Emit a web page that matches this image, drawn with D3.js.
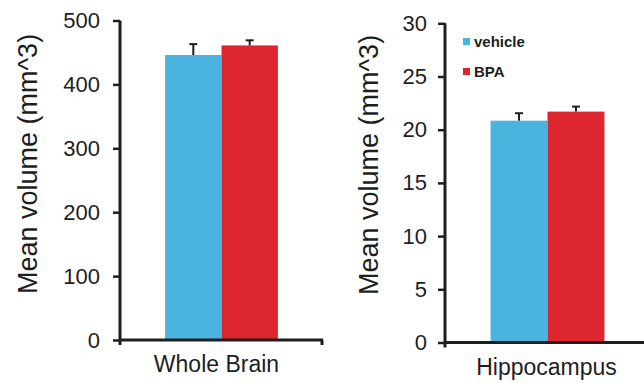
<!DOCTYPE html>
<html><head><meta charset="utf-8">
<script src="https://cdn.jsdelivr.net/npm/d3@7"></script>
<style>
html,body{margin:0;padding:0;background:#fff;}
svg{display:block;font-family:"Liberation Sans",Arial,sans-serif;}
</style></head>
<body><svg id="c" width="644" height="383"></svg>
<script>
const series = ["vehicle", "BPA"];
const colors = ["#4ab3e0", "#de262e"];
const wholeBrainMeans = [446, 461];
const wholeBrainErr = [17, 8];
const hippoMeans = [20.85, 21.7];
const hippoErr = [0.7, 0.47];
const wholeTicks = [0, 100, 200, 300, 400, 500];
const hippoTicks = [0, 5, 10, 15, 20, 25, 30];
const yLabel = "Mean volume (mm^3)";

const svg = d3.select("#c");
const ink = "#1e1e1e";

function panel(o) {
  const g = svg.append("g");
  const y = d3.scaleLinear().domain([0, o.max]).range([o.y0, o.y1]);
  const x = d3.scaleBand().domain([o.cat]).range([o.x0, o.x1]).paddingOuter(0.4).paddingInner(0);
  const xs = d3.scaleBand().domain(series).range([x(o.cat), x(o.cat) + x.bandwidth()]);
  // bars
  g.selectAll("rect.bar").data(series).join("rect")
    .attr("x", d => xs(d)).attr("width", xs.bandwidth())
    .attr("y", (d, i) => y(o.means[i])).attr("height", (d, i) => y(0) - y(o.means[i]))
    .attr("fill", (d, i) => colors[i]);
  // error bars
  const eb = g.selectAll("g.err").data(series).join("g");
  eb.append("line")
    .attr("x1", d => xs(d) + xs.bandwidth() / 2).attr("x2", d => xs(d) + xs.bandwidth() / 2)
    .attr("y1", (d, i) => y(o.means[i])).attr("y2", (d, i) => y(o.means[i] + o.err[i]))
    .attr("stroke", ink).attr("stroke-width", 2);
  eb.append("line")
    .attr("x1", d => xs(d) + xs.bandwidth() / 2 - 4).attr("x2", d => xs(d) + xs.bandwidth() / 2 + 4)
    .attr("y1", (d, i) => y(o.means[i] + o.err[i])).attr("y2", (d, i) => y(o.means[i] + o.err[i]))
    .attr("stroke", ink).attr("stroke-width", 2);
  // y axis
  const ya = g.append("g").attr("transform", `translate(${o.x0},0)`)
    .call(d3.axisLeft(y).tickValues(o.ticks).tickSize(7).tickPadding(o.pad).tickSizeOuter(0));
  ya.select(".domain").remove();
  ya.selectAll(".tick line").attr("stroke", ink).attr("stroke-width", 2.5);
  ya.selectAll(".tick text").attr("fill", ink).style("font-size", "22px")
    .style("font-family", '"Liberation Sans",Arial,sans-serif');
  g.append("line").attr("x1", o.x0).attr("x2", o.x0).attr("y1", y(o.max)).attr("y2", y(0) + 5)
    .attr("stroke", ink).attr("stroke-width", 3);
  // x axis
  g.append("line").attr("x1", o.x0).attr("x2", o.x1).attr("y1", y(0)).attr("y2", y(0))
    .attr("stroke", ink).attr("stroke-width", 3);
  g.append("line").attr("x1", o.x1 - 1).attr("x2", o.x1 - 1).attr("y1", y(0)).attr("y2", y(0) + 5)
    .attr("stroke", ink).attr("stroke-width", 3);
  // category label
  g.append("text").attr("x", x(o.cat) + x.bandwidth() / 2 + o.catDx).attr("y", o.catY)
    .attr("text-anchor", "middle").attr("fill", ink).style("font-size", "23px").text(o.cat);
  // y title
  g.append("text").attr("transform", `translate(${o.titleX},${o.titleY}) rotate(-90)`)
    .attr("text-anchor", "middle").attr("fill", ink).style("font-size", "27px").text(yLabel);
  return g;
}

panel({cat: "Whole Brain", max: 500, ticks: wholeTicks, means: wholeBrainMeans, err: wholeBrainErr,
  x0: 120, x1: 323, y0: 340, y1: 20.5, catY: 372, catDx: -5, titleX: 37, titleY: 164, pad: 13});
panel({cat: "Hippocampus", max: 30, ticks: hippoTicks, means: hippoMeans, err: hippoErr,
  x0: 445, x1: 650, y0: 342.5, y1: 23.3, catY: 375, catDx: -1, titleX: 378, titleY: 165, pad: 11});

// legend
const lg = svg.append("g").attr("transform", "translate(463,38)");
series.forEach((s, i) => {
  const row = lg.append("g").attr("transform", `translate(0,${i * 30})`);
  row.append("rect").attr("width", 7).attr("height", 7).attr("fill", colors[i]);
  row.append("text").attr("x", 11).attr("y", 9).attr("fill", ink)
    .style("font-size", "15px").style("font-weight", "bold").text(s);
});
</script></body></html>
